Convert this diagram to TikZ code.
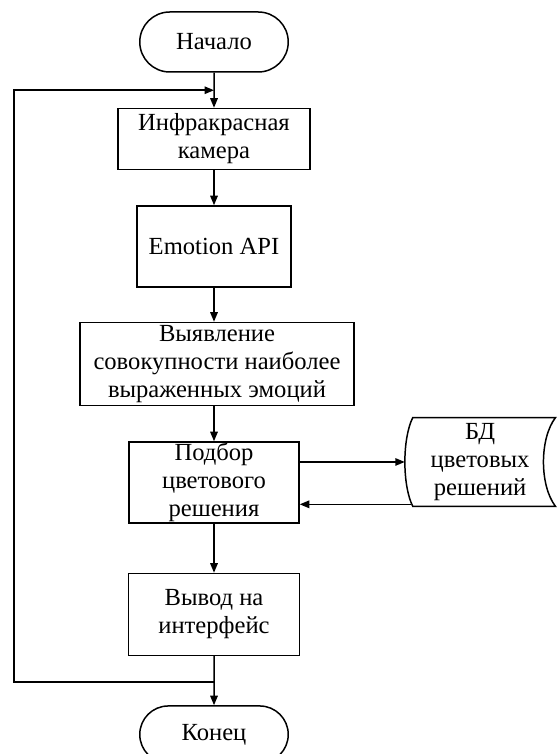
\documentclass[tikz,border=0pt]{standalone}
\usepackage{fontspec}
\setmainfont{Liberation Serif}
\usepackage{tikz}
\usetikzlibrary{positioning, arrows.meta, shapes.misc, calc}

\begin{document}
\begin{tikzpicture}[
      node distance=7mm and 7mm,
      box/.style={draw, line width=0.85pt, align=center, inner xsep=1pt, inner ysep=0pt, font=\fontsize{14}{16}\selectfont},
      term/.style={box, rounded rectangle, minimum width=3.04cm, minimum height=1.2cm},
      arr/.style={line width=0.85pt, -{Triangle[length=1.9mm, width=1.5mm]}}
    ]
    \useasboundingbox (0,0) rectangle (11.12,-15.08);

    \node[term] (start) at (4.28,-0.84) {Начало};
    \node[box, below=7mm of start, minimum width=3.84cm, minimum height=1.22cm] (cam) {Инфракрасная\\камера};
    \node[box, below=7mm of cam, minimum width=3.08cm, minimum height=1.62cm] (api) {Emotion API};
    \node[box, below=6.8mm of api, minimum width=5.48cm, minimum height=1.66cm, xshift=0.06cm] (emo) {Выявление\\совокупности наиболее\\выраженных эмоций};
    \node[box, below=7mm of emo, xshift=-0.06cm, minimum width=3.4cm, minimum height=1.62cm] (pick) {Подбор\\цветового\\решения};
    \node[box, below=9.8mm of pick, minimum width=3.42cm, minimum height=1.64cm] (out) {Вывод на\\интерфейс};
    \node[term, below=9.8mm of out, minimum height=1.14cm] (stop) {Конец};

    % database of colour schemes
    \node[font=\fontsize{14}{16}\selectfont, align=center, right=2.1cm of pick, yshift=0.41cm,
          minimum width=3.0cm, minimum height=1.76cm, inner sep=0pt] (db) {БД\\цветовых\\решений};
    \draw[line width=0.85pt] ([xshift=0.16cm]db.south west)
      .. controls +(-0.21,0.42) and +(-0.21,-0.42) .. ([xshift=0.16cm]db.north west)
      -- (db.north east)
      .. controls +(-0.32,-0.42) and +(-0.32,0.42) .. (db.south east)
      -- cycle;

    \coordinate (top) at ($(start.south)!0.5!(cam.north)$);
    \coordinate (bot) at ($(out.south)!0.53!(stop.north)$);
    \coordinate (back) at ([shift={(0.12,0.04)}]db.south west);

    \draw[arr] (start) -- (cam);
    \draw[arr] (cam) -- (api);
    \draw[arr] (api) -- (emo.north -| api.south);
    \draw[arr] (emo.south -| api.south) -- (pick);
    \draw[arr] (pick) -- (out);
    \draw[arr] (out) -- (stop);
    \draw[arr] ([yshift=0.41cm]pick.east) -- (db.west);
    \draw[arr] (back) -- (back -| pick.east);
    \draw[arr] (bot) -- ++(-4,0) |- (top);
  \end{tikzpicture}
\end{document}
